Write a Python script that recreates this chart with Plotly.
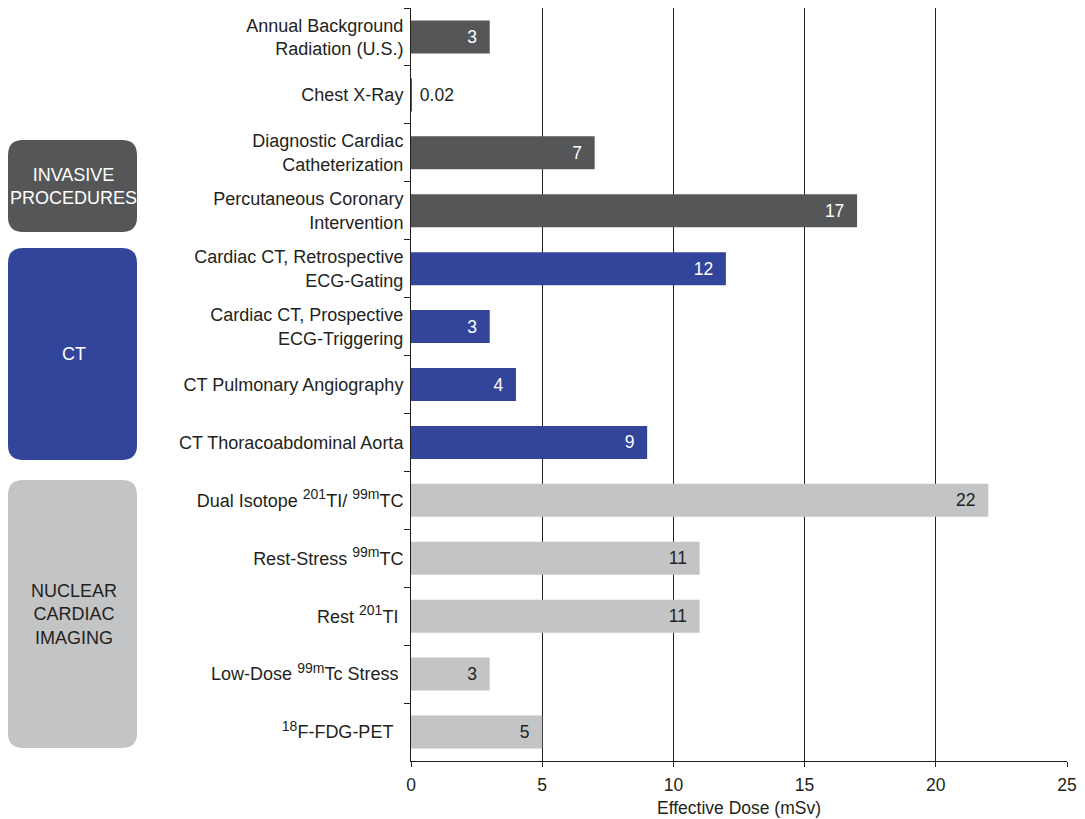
import plotly.graph_objects as go

FONT = "Liberation Sans"


def sup(s):
    return f"<sup><span style='font-size:14px'>{s}</span></sup>"


categories = [
    "Annual Background<br>Radiation (U.S.)",
    "Chest X-Ray",
    "Diagnostic Cardiac<br>Catheterization",
    "Percutaneous Coronary<br>Intervention",
    "Cardiac CT, Retrospective<br>ECG-Gating",
    "Cardiac CT, Prospective<br>ECG-Triggering",
    "CT Pulmonary Angiography",
    "CT Thoracoabdominal Aorta",
    f"Dual Isotope {sup('201')}TI/ {sup('99m')}TC",
    f"Rest-Stress {sup('99m')}TC",
    f"Rest {sup('201')}TI\u00a0",
    f"Low-Dose {sup('99m')}Tc Stress\u00a0",
    f"{sup('18')}F-FDG-PET\u00a0\u00a0",
]
doses = [3, 0.02, 7, 17, 12, 3, 4, 9, 22, 11, 11, 3, 5]
dose_labels = ["3", "0.02", "7", "17", "12", "3", "4", "9", "22", "11", "11", "3", "5"]
groups = ["other", "other", "invasive", "invasive", "ct", "ct", "ct", "ct",
          "nuclear", "nuclear", "nuclear", "nuclear", "nuclear"]
group_names = ["INVASIVE<br>PROCEDURES", "CT", "NUCLEAR<br>CARDIAC<br>IMAGING"]
x_ticks = [0, 5, 10, 15, 20, 25]

DARK = "#555658"
BLUE = "#32459b"
LIGHT = "#c3c4c6"
INK = "#231f20"
color_map = {"other": DARK, "invasive": DARK, "ct": BLUE, "nuclear": LIGHT}
text_color_map = {"other": "white", "invasive": "white", "ct": "white", "nuclear": INK}

bar_colors = [color_map[g] for g in groups]
text_colors = [text_color_map[g] for g in groups]
text_colors[1] = INK
text_pos = ["outside" if v < 1 else "inside" for v in doses]
bar_text = [("\u00a0" + t) if v < 1 else (t + "\u00a0\u00a0") for t, v in zip(dose_labels, doses)]

W, H = 1085, 819
ML, MR, MT, MB = 411, 18, 8, 58
PW, PH = W - ML - MR, H - MT - MB

fig = go.Figure(go.Bar(
    x=doses, y=categories, orientation="h",
    marker=dict(color=bar_colors, line=dict(width=0)),
    width=0.57,
    text=bar_text, textposition=text_pos, insidetextanchor="end",
    textangle=0, constraintext="none", cliponaxis=False,
    textfont=dict(color=text_colors, size=17.5, family=FONT),
    hoverinfo="skip",
))


def px2paper(x, y):
    return (x - ML) / PW, (H - MB - y) / PH


def rounded_box(x0, y0, x1, y1, r=15):
    def p(x, y):
        a, b = px2paper(x, y)
        return f"{a:.5f},{b:.5f}"
    return (f"M {p(x0 + r, y0)} L {p(x1 - r, y0)} Q {p(x1, y0)} {p(x1, y0 + r)} "
            f"L {p(x1, y1 - r)} Q {p(x1, y1)} {p(x1 - r, y1)} "
            f"L {p(x0 + r, y1)} Q {p(x0, y1)} {p(x0, y1 - r)} "
            f"L {p(x0, y0 + r)} Q {p(x0, y0)} {p(x0 + r, y0)} Z")


boxes = [
    (8, 140, 137, 232, DARK, "white"),
    (8, 248, 137, 460, BLUE, "white"),
    (8, 480, 137, 748, LIGHT, INK),
]
shapes, annotations = [], []
for (x0, y0, x1, y1, col, tcol), name in zip(boxes, group_names):
    shapes.append(dict(type="path", xref="paper", yref="paper", path=rounded_box(x0, y0, x1, y1),
                       fillcolor=col, line=dict(width=0), layer="above"))
    cx, cy = px2paper((x0 + x1) / 2 + 1, (y0 + y1) / 2)
    annotations.append(dict(x=cx, y=cy, xref="paper", yref="paper", text=name, showarrow=False,
                            font=dict(color=tcol, size=18, family=FONT),
                            align="center", xanchor="center", yanchor="middle"))

fig.update_layout(
    width=W, height=H,
    margin=dict(l=ML, r=MR, t=MT, b=MB),
    plot_bgcolor="white", paper_bgcolor="white",
    font=dict(family=FONT, size=18, color=INK),
    showlegend=False,
    shapes=shapes, annotations=annotations,
    xaxis=dict(range=[0, 25], tickvals=x_ticks, showgrid=True, gridcolor=INK, gridwidth=1,
               zeroline=False, showline=True, linecolor=INK, linewidth=1,
               ticks="outside", ticklen=5, tickcolor=INK, ticklabelstandoff=3,
               title=dict(text="Effective Dose (mSv)", standoff=7, font=dict(size=17.5)),
               tickfont=dict(size=17.5), fixedrange=True, automargin=False),
    yaxis=dict(autorange="reversed", showline=True, linecolor=INK, linewidth=1,
               ticks="outside", ticklen=6, tickcolor=INK, tickson="boundaries",
               ticklabelstandoff=3, automargin=False,
               showgrid=False, zeroline=False, tickfont=dict(size=18), fixedrange=True),
)

fig.write_html("out.html")
